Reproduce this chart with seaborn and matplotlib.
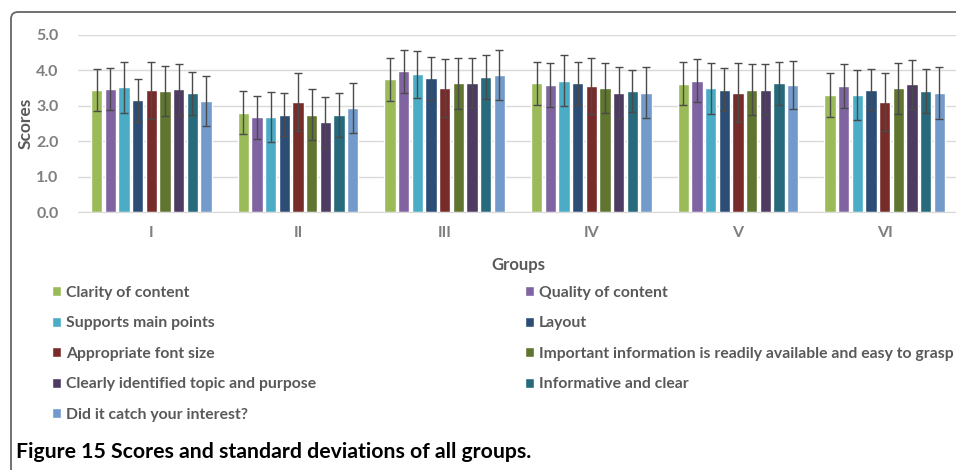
import matplotlib
matplotlib.use('Agg')
import matplotlib.pyplot as plt
import matplotlib.transforms as mtransforms
from matplotlib.patches import FancyBboxPatch
import pandas as pd
import seaborn as sns

# Data
groups = ['I', 'II', 'III', 'IV', 'V', 'VI']
criteria = ['Clarity of content', 'Quality of content', 'Supports main points', 'Layout',
            'Appropriate font size', 'Important information is readily available and easy to grasp',
            'Clearly identified topic and purpose', 'Informative and clear', 'Did it catch your interest?']

scores_I = [3.45, 3.47, 3.52, 3.16, 3.44, 3.42, 3.47, 3.35, 3.13]
scores_II = [2.81, 2.67, 2.68, 2.75, 3.11, 2.75, 2.54, 2.75, 2.93]
scores_III = [3.75, 3.98, 3.89, 3.78, 3.50, 3.63, 3.65, 3.81, 3.86]
scores_IV = [3.63, 3.59, 3.71, 3.63, 3.56, 3.50, 3.37, 3.42, 3.37]
scores_V = [3.62, 3.71, 3.49, 3.46, 3.37, 3.46, 3.46, 3.63, 3.59]
scores_VI = [3.31, 3.56, 3.30, 3.46, 3.11, 3.49, 3.61, 3.42, 3.37]

sd_I = [0.59, 0.59, 0.71, 0.61, 0.80, 0.71, 0.72, 0.60, 0.70]
sd_II = [0.61, 0.61, 0.71, 0.61, 0.81, 0.72, 0.72, 0.62, 0.70]
sd_III = [0.61, 0.61, 0.67, 0.61, 0.82, 0.71, 0.71, 0.62, 0.71]
sd_IV = [0.60, 0.61, 0.72, 0.61, 0.80, 0.70, 0.73, 0.60, 0.72]
sd_V = [0.61, 0.61, 0.72, 0.60, 0.83, 0.72, 0.72, 0.61, 0.68]
sd_VI = [0.63, 0.61, 0.71, 0.59, 0.82, 0.71, 0.69, 0.61, 0.73]

colors = ['#9BBB59', '#8064A2', '#4BACC6', '#2C4D75', '#772C2A',
          '#5F7530', '#4D3B62', '#276A7C', '#729ACA']

all_scores = [scores_I, scores_II, scores_III, scores_IV, scores_V, scores_VI]
all_sd = [sd_I, sd_II, sd_III, sd_IV, sd_V, sd_VI]
rows = []
for g, sc, sd in zip(groups, all_scores, all_sd):
    for c, v, s in zip(criteria, sc, sd):
        rows.append({'Groups': g, 'Criterion': c, 'Scores': v, 'SD': s})
df = pd.DataFrame(rows)

sns.set_style('white')
plt.rcParams['font.family'] = ['Lato', 'DejaVu Sans']

W, H = 956, 470
fig = plt.figure(figsize=(W / 100, H / 100), dpi=100)
ax = fig.add_axes([78 / W, 1 - 212 / H, 880 / W, 177 / H])

sns.barplot(data=df, x='Groups', y='Scores', hue='Criterion', order=groups,
            hue_order=criteria, palette=colors, errorbar=None, width=0.84,
            gap=0.18, saturation=1, legend=True, ax=ax)

# standard deviation whiskers
for cont, crit in zip(ax.containers, criteria):
    sub = df[df['Criterion'] == crit].set_index('Groups').loc[groups]
    xs = [b.get_x() + b.get_width() / 2 for b in cont]
    ys = [b.get_height() for b in cont]
    ax.errorbar(xs, ys, yerr=sub['SD'].values, fmt='none', ecolor='#4a4a4a',
                elinewidth=1, capsize=3, capthick=1, zorder=5)

ax.set_xlim(-0.5, 5.5)
ax.set_ylim(0, 5)
ax.set_yticks([0, 1, 2, 3, 4, 5])
ax.set_yticklabels(['%.1f' % v for v in range(6)])
ax.yaxis.grid(True, color='#d9d9d9', linewidth=1)
ax.set_axisbelow(True)
for s in ['top', 'right', 'left']:
    ax.spines[s].set_visible(False)
ax.spines['bottom'].set_color('#d9d9d9')
ax.tick_params(axis='both', length=0, labelsize=11.5, labelcolor='#7f7f7f')
ax.tick_params(axis='y', pad=14)
ax.tick_params(axis='x', pad=10)
for lab in ax.get_xticklabels() + ax.get_yticklabels():
    lab.set_fontweight('bold')
ax.set_xlabel('Groups', fontsize=12, fontweight='bold', color='#595959', labelpad=12)
ax.set_ylabel('Scores', fontsize=12.5, fontweight='bold', color='#595959', labelpad=2)

handles, labels = ax.get_legend_handles_labels()
ax.get_legend().remove()
leg_kw = dict(frameon=False, fontsize=11.3, labelcolor='#595959', handlelength=0.6,
              handleheight=0.6, handletextpad=0.3, labelspacing=1.05, borderaxespad=0,
              borderpad=0, loc='upper left')
leg1 = fig.legend(handles[0::2], labels[0::2], bbox_to_anchor=(52 / W, 1 - 286 / H), **leg_kw)
leg2 = fig.legend(handles[1::2], labels[1::2], bbox_to_anchor=(525 / W, 1 - 286 / H), **leg_kw)
for leg in (leg1, leg2):
    for t in leg.get_texts():
        t.set_fontweight('bold')

fig.text(16 / W, 1 - 452 / H, 'Figure 15 Scores and standard deviations of all groups.',
         fontsize=15.3, fontweight='bold', color='black', va='center', ha='left')

frame = FancyBboxPatch((11, -30), 1000, 488, boxstyle='round,pad=0,rounding_size=7',
                       transform=mtransforms.IdentityTransform(), facecolor='none',
                       edgecolor='#666666', linewidth=1.3)
fig.add_artist(frame)

fig.savefig('out.png', dpi=100)
